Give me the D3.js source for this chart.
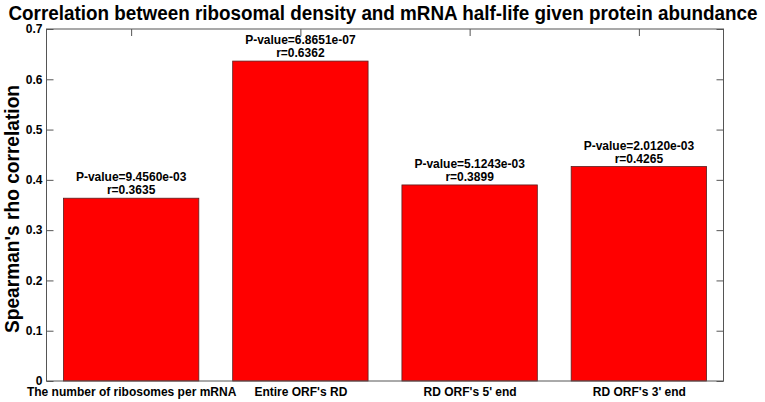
<!DOCTYPE html>
<html><head><meta charset="utf-8">
<script src="https://cdn.jsdelivr.net/npm/d3@7"></script>
<style>body{margin:0;background:#fff}svg{display:block}text{font-family:"Liberation Sans",Arial,sans-serif;font-weight:bold}</style>
</head><body><svg id="c" width="765" height="402"></svg>
<script>
const categories = ["The number of ribosomes per mRNA", "Entire ORF's RD", "RD ORF's 5' end", "RD ORF's 3' end"];
const rhoValues = [0.3635, 0.6362, 0.3899, 0.4265];
const pLabels = ["P-value=9.4560e-03", "P-value=6.8651e-07", "P-value=5.1243e-03", "P-value=2.0120e-03"];
const rLabels = ["r=0.3635", "r=0.6362", "r=0.3899", "r=0.4265"];
const yTicks = [0, 0.1, 0.2, 0.3, 0.4, 0.5, 0.6, 0.7];

const svg = d3.select("#c");
const L = 46.5, R = 723.5, T = 29, B = 381;
const x = d3.scaleLinear().domain([0.5, 4.5]).range([L, R]);
const y = d3.scaleLinear().domain([0, 0.7]).range([B, T]);
const bw = (x(2) - x(1)) * 0.8;
const axisColor = "#555";
const FF = '"Liberation Sans",Arial,sans-serif';

// bars
svg.selectAll("rect.bar").data(rhoValues).join("rect")
  .attr("x", (d, i) => x(i + 1) - bw / 2).attr("width", bw)
  .attr("y", d => y(d)).attr("height", d => B - y(d))
  .attr("fill", "#ff0000").attr("stroke", "#5a2020").attr("stroke-width", 0.8);

// axes box
svg.append("rect").attr("x", L).attr("y", T).attr("width", R - L).attr("height", B - T)
  .attr("fill", "none").attr("stroke", axisColor).attr("stroke-width", 1);

// y axis left (ticks inside)
const yl = svg.append("g").attr("transform", `translate(${L},0)`)
  .call(d3.axisLeft(y).tickValues(yTicks).tickSize(-7).tickPadding(4).tickFormat(d => d === 0 ? "0" : d3.format(".1f")(d)));
yl.select(".domain").remove();
yl.selectAll("line").attr("stroke", axisColor);
yl.selectAll("text").attr("font-size", 12).attr("fill", "#000").attr("font-family", FF).attr("font-weight", "bold");
// y axis right ticks
const yr = svg.append("g").attr("transform", `translate(${R},0)`)
  .call(d3.axisRight(y).tickValues(yTicks).tickSize(-7).tickFormat(""));
yr.select(".domain").remove();
yr.selectAll("line").attr("stroke", axisColor);
// x top ticks
const xt = svg.append("g").attr("transform", `translate(0,${T})`)
  .call(d3.axisTop(x).tickValues([1, 2, 3, 4]).tickSize(-7).tickFormat(""));
xt.select(".domain").remove();
xt.selectAll("line").attr("stroke", axisColor);
// x bottom axis labels
const xb = svg.append("g").attr("transform", `translate(0,${B})`)
  .call(d3.axisBottom(x).tickValues([1, 2, 3, 4]).tickSize(0).tickPadding(6).tickFormat((d) => categories[d - 1]));
xb.select(".domain").remove();
xb.selectAll("text").attr("font-size", 12).attr("fill", "#000").attr("font-family", FF).attr("font-weight", "bold");

// annotations
const ann = svg.append("g");
rhoValues.forEach((v, i) => {
  ann.append("text").attr("x", x(i + 1)).attr("y", y(v) - 17).attr("text-anchor", "middle")
    .attr("font-size", 12).text(pLabels[i]);
  ann.append("text").attr("x", x(i + 1)).attr("y", y(v) - 4).attr("text-anchor", "middle")
    .attr("font-size", 12).text(rLabels[i]);
});

// title
svg.append("text").attr("x", 383).attr("y", 20).attr("text-anchor", "middle")
  .attr("font-size", 20).attr("textLength", 749).attr("lengthAdjust", "spacingAndGlyphs")
  .text("Correlation between ribosomal density and mRNA half-life given protein abundance");
// y label
svg.append("text").attr("transform", `translate(19,${(T + B) / 2 + 4}) rotate(-90)`).attr("text-anchor", "middle")
  .attr("font-size", 20).attr("textLength", 248).attr("lengthAdjust", "spacingAndGlyphs")
  .text("Spearman's rho correlation");
</script></body></html>
